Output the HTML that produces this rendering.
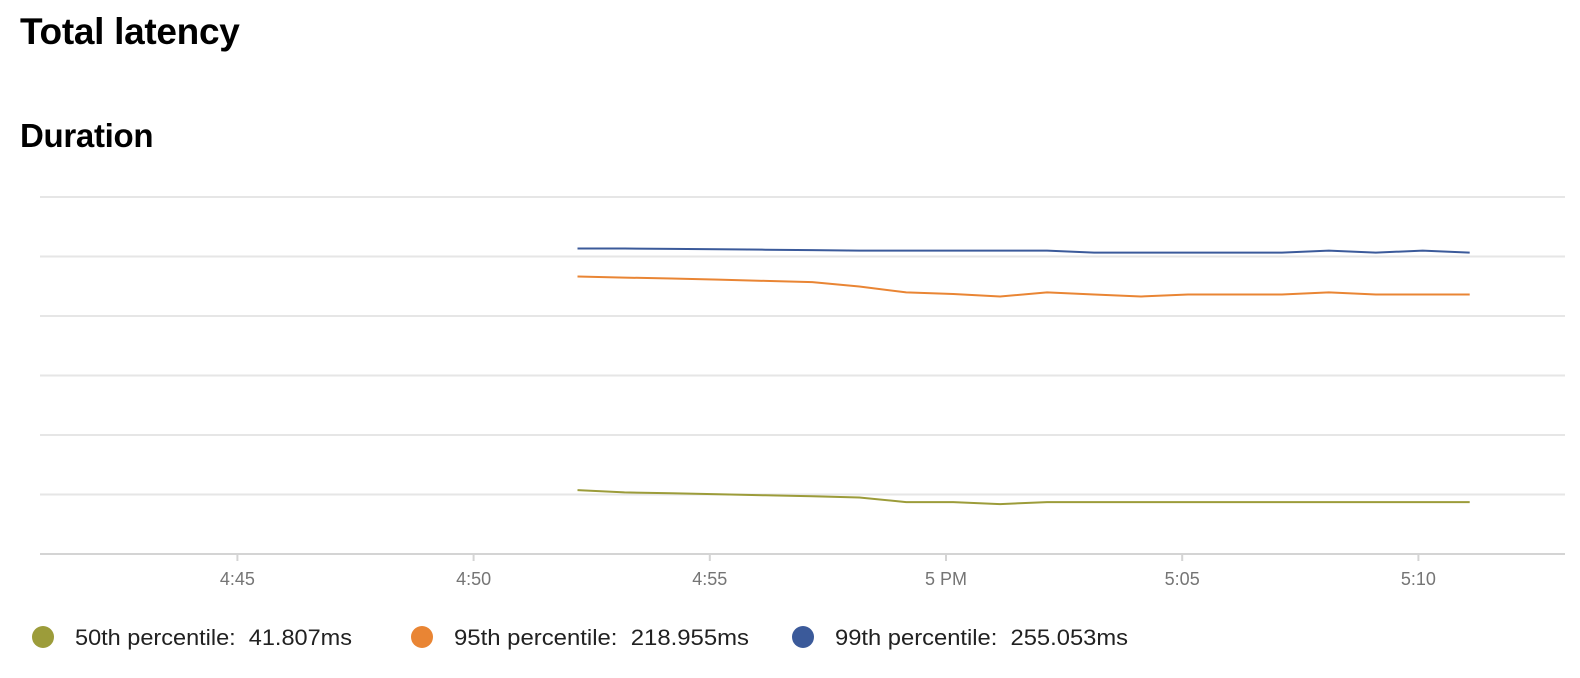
<!DOCTYPE html>
<html><head><meta charset="utf-8"><style>
body{margin:0;background:#fff;font-family:"Liberation Sans",sans-serif;width:1580px;height:678px;overflow:hidden;position:relative}
h1{position:absolute;left:20px;top:11px;margin:0;font-size:37px;font-weight:bold;color:#000;letter-spacing:-0.3px}
h2{position:absolute;left:20px;top:117px;margin:0;font-size:33px;font-weight:bold;color:#000;letter-spacing:-0.3px}
svg{position:absolute;left:0;top:0}
</style></head><body>
<h1>Total latency</h1>
<h2>Duration</h2>
<svg id="chart" width="1580" height="678"></svg>
<script>
const tickMinutes=[45,50,55,60,65,70];
const tickLabels=["4:45","4:50","4:55","5 PM","5:05","5:10"];
const gridValues=[50,100,150,200,250,300];
const pointIndex=[0,1,2,3,4,5,6,7,8,9,10,11,12,13,14,15,16,17,18,19];
const p50=[53.7,51.8,51,50.2,49.3,48.5,47.5,43.6,43.6,41.9,43.6,43.6,43.6,43.6,43.6,43.6,43.6,43.6,43.6,43.6];
const p95=[233.2,232.3,231.5,230.6,229.5,228.5,224.8,219.8,218.5,216.4,219.8,218.1,216.4,218.1,218.1,218.1,219.8,218.1,218.1,218.1];
const p99=[256.7,256.7,256.4,256.1,255.7,255.4,255,255,255,255,255,253.3,253.3,253.3,253.3,253.3,255,253.3,255,253.3];
const seriesNames=["50th percentile","95th percentile","99th percentile"];
const seriesLegend=["41.807ms","218.955ms","255.053ms"];
const colors=["#9c9c3a","#e98534","#3b5a9a"];
const ns="http://www.w3.org/2000/svg";
const svg=document.getElementById('chart');
const x=m=>946+(m-60)*47.24;
const ptMin=i=>52.2+i*0.994;
const y=v=>554-v*(357/300);
function mk(t,a){const e=document.createElementNS(ns,t);for(const k in a)e.setAttribute(k,a[k]);svg.appendChild(e);return e;}
gridValues.forEach(v=>{const l=mk('line',{x1:40,x2:1565,y1:y(v),y2:y(v),stroke:'#e6e6e6','stroke-width':2});

});
const ax=mk('line',{x1:40,x2:1565,y1:554,y2:554,stroke:'#d4d4d4','stroke-width':2});


tickMinutes.forEach((m,i)=>{const t=mk('line',{x1:x(m),x2:x(m),y1:554,y2:561,stroke:'#d4d4d4','stroke-width':2});


const tx=mk('text',{x:x(m),y:585,'text-anchor':'middle','font-size':18,fill:'#757575','font-family':'Liberation Sans, sans-serif'});
tx.textContent=tickLabels[i];

});
[p50,p95,p99].forEach((s,k)=>{const d=pointIndex.map(i=>x(ptMin(i)).toFixed(1)+','+y(s[i]).toFixed(1)).join(' ');
const pl=mk('polyline',{points:d,fill:'none',stroke:colors[k],'stroke-width':2});

});
const lx=[43,422,803];
const lw=[277,295,293];
seriesNames.forEach((n,k)=>{const c=mk('circle',{cx:lx[k],cy:637,r:11,fill:colors[k]});


const t=mk('text',{x:lx[k]+32,y:645,'font-size':22,fill:'#212121','font-family':'Liberation Sans, sans-serif',textLength:lw[k],lengthAdjust:'spacingAndGlyphs'});
t.textContent=n+':\u00a0 '+seriesLegend[k];

});
</script>
</body></html>
